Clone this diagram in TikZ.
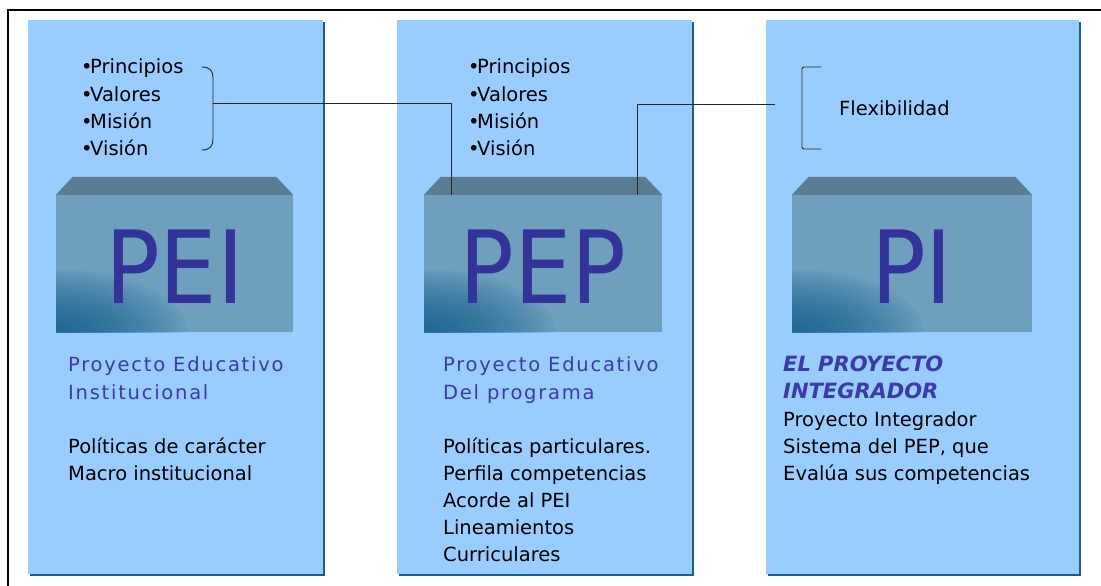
\documentclass[tikz,border=0pt]{standalone}
\usepackage{fontspec}
\setmainfont{DejaVu Sans}
\newfontfamily\titlefont[LetterSpace=9]{DejaVu Sans}
\newfontfamily\bigfont{DejaVu Sans Condensed}
\usetikzlibrary{positioning}
\definecolor{panelc}{HTML}{99CCFF}
\definecolor{shadowc}{HTML}{1F5C87}
\definecolor{frontc}{HTML}{6E9FBD}
\definecolor{topc}{HTML}{5A7D92}
\definecolor{deepc}{HTML}{0B5A8C}
\definecolor{letterc}{HTML}{333399}
\definecolor{titlec}{HTML}{3A3AA8}
\newcommand{\bul}{•\kern-2.5pt}
\tikzset{
  front/.style={rectangle, fill=frontc, inner sep=0pt, minimum height=137pt,
    text height=80pt, text=letterc, font=\bigfont\fontsize{101}{101}\selectfont,
    path picture={\foreach \r in {1,...,24}
      \fill[deepc, opacity=0.05] (path picture bounding box.south west)
        ellipse ({\r*5.5pt} and {\r*2.6pt});}},
  topface/.style={fill=topc},
  txt/.style={anchor=base west, inner sep=0pt, font=\fontsize{19.5}{24}\selectfont},
  title/.style={txt, text=titlec, font=\titlefont\fontsize{19.5}{24}\selectfont},
  link/.style={draw=black!85, line width=0.9pt}
}
\begin{document}
\begin{tikzpicture}[x=1pt,y=-1pt]
  \clip (0,0) rectangle (1101,586);
  \fill[white] (0,0) rectangle (1101,586);
  % outer frame
  \draw[line width=1.6pt] (8,10) rectangle (1115,600);
  % columns
  \fill[shadowc] (30,22) rectangle (325,576);
  \fill[panelc] (28,20) rectangle (323,574);
  \fill[shadowc] (399,22) rectangle (694,576);
  \fill[panelc] (397,20) rectangle (692,574);
  \fill[shadowc] (768,22) rectangle (1081,576);
  \fill[panelc] (766,20) rectangle (1079,574);

  % blocks
  \node[front, minimum width=237pt] (pei) at (174.5,263.5) {PEI};
  \node[front, minimum width=238pt] (pep) at (543,263.5) {PEP};
  \node[front, minimum width=240pt] (pi) at (912,263.5) {PI};
  \foreach \b in {pei,pep,pi}
    \fill[topface] (\b.north west) -- ++(17,-18)
      -- ([xshift=-17pt,yshift=18pt]\b.north east) -- (\b.north east) -- cycle;

  % texts, one node per line
  \foreach \t [count=\i] in {Principios,Valores,Misión,Visión} {
    \node[txt] (listA\i) at (81,{74+27.3*(\i-1)}) {\bul\t};
    \node[txt] (listB\i) at (468,{74+27.3*(\i-1)}) {\bul\t};
  }
  \node[txt] (flex) at (839,115) {Flexibilidad};
  \foreach \t [count=\i] in {Proyecto Educativo,Institucional}
    \node[title] (titleA\i) at (68,{371+28*(\i-1)}) {\t};
  \foreach \t [count=\i] in {Proyecto Educativo,Del programa}
    \node[title] (titleB\i) at (443,{371+28*(\i-1)}) {\t};
  \foreach \t [count=\i] in {EL PROYECTO,INTEGRADOR}
    \node[txt, text=titlec, font=\bfseries\itshape\fontsize{21}{24}\selectfont]
      (titleC\i) at (783,{371+27.5*(\i-1)}) {\t};
  \foreach \t [count=\i] in {Políticas de carácter,Macro institucional}
    \node[txt] (textA\i) at (68,{453+27.3*(\i-1)}) {\t};
  \foreach \t [count=\i] in {Políticas particulares.,Perfila competencias,
      Acorde al PEI,Lineamientos,Curriculares}
    \node[txt] (textB\i) at (443,{453+27.1*(\i-1)}) {\t};
  \foreach \t [count=\i] in {Proyecto Integrador,{Sistema del PEP, que},
      Evalúa sus competencias}
    \node[txt] (textC\i) at (783,{426+27.2*(\i-1)}) {\t};

  % brackets
  \draw[link] (202,67) .. controls (210,67) and (213,71) .. (213,78)
    -- (213,139) .. controls (213,146) and (210,150) .. (202,150);
  \draw[link, rounded corners=2pt] (821,67) -- (802,67) -- (802,149) -- (821,149);

  % connectors
  \coordinate (brace) at (213,103);
  \coordinate (pepL) at ([xshift=28pt]pep.north west);
  \coordinate (pepR) at ([xshift=-25pt]pep.north east);
  \coordinate (flexTip) at (775,104);
  \draw[link] (brace) -| (pepL);
  \draw[link] (pepR) |- (flexTip);
\end{tikzpicture}
\end{document}
